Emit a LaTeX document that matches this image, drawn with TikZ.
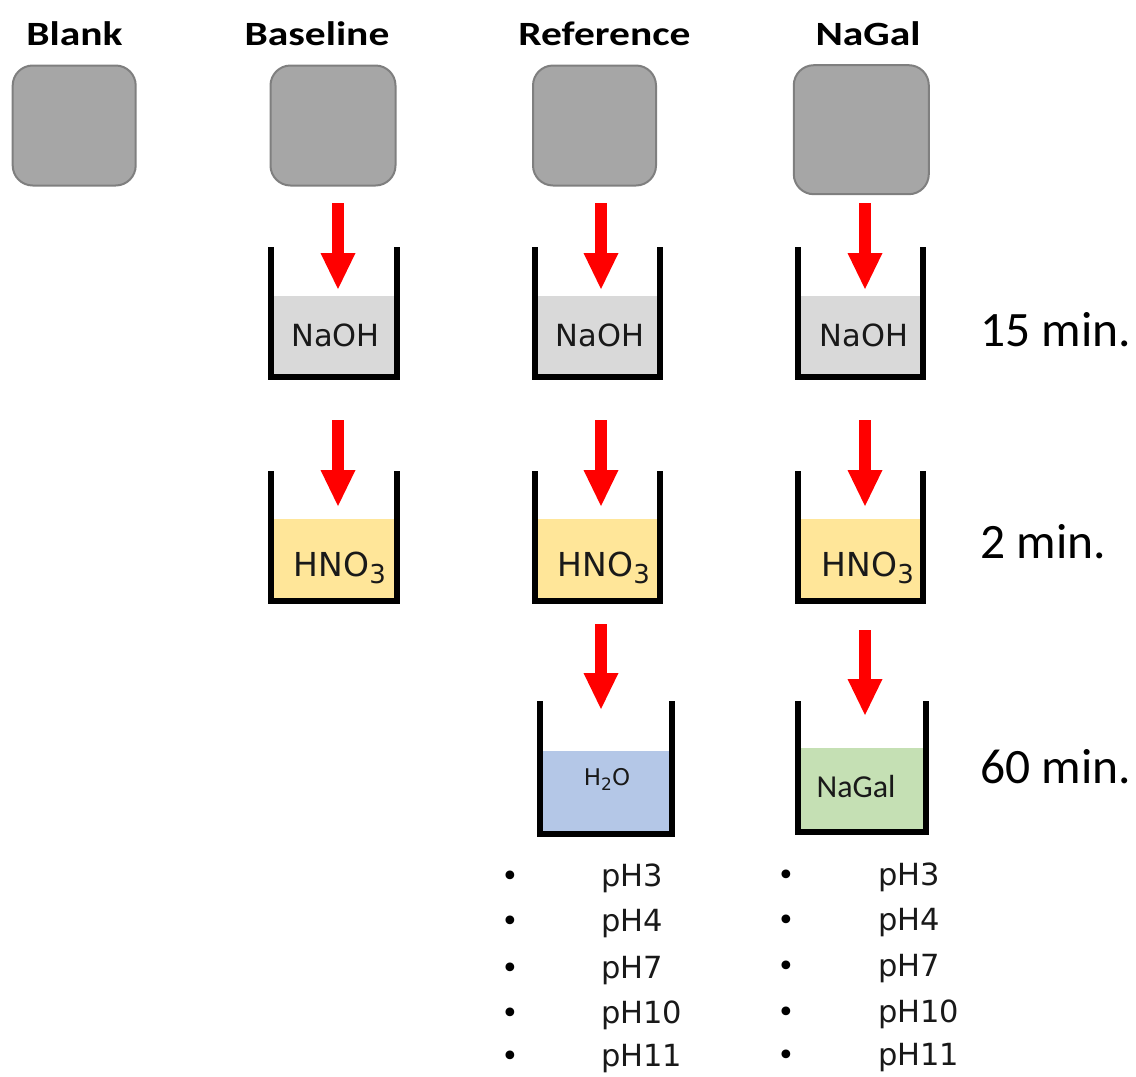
\documentclass[tikz,border=0pt]{standalone}
\usepackage{fontspec}
\usetikzlibrary{arrows.meta}
\newfontfamily\calfont{Carlito}
\newfontfamily\dvfont{DejaVu Sans}
\definecolor{sqfill}{HTML}{A6A6A6}
\definecolor{sqdraw}{HTML}{7F7F7F}
\definecolor{naohc}{HTML}{D9D9D9}
\definecolor{hnoc}{HTML}{FFE699}
\definecolor{waterc}{HTML}{B4C7E7}
\definecolor{nagalc}{HTML}{C5E0B4}
\definecolor{arrred}{HTML}{FF0000}
\newcommand\mysub[2]{\raisebox{-#2}{\fontsize{#1}{#1}\selectfont 3}}
\newcommand\mybeaker[8]{%
  \fill[#7] (#2,#6) rectangle (#3,#5);
  \draw[wall] (#2,#4) -- (#2,#5) -- (#3,#5) -- (#3,#4);
  \path (#2,#4) rectangle (#3,#5) coordinate[pos=.5] (#1) #8;
}
\tikzset{
  sample/.style={draw=sqdraw, fill=sqfill, line width=2pt, rounded corners=20pt, inner sep=0pt},
  title/.style={font=\calfont\bfseries\fontsize{34}{34}\selectfont, anchor=base, inner sep=0pt},
  wall/.style={line width=6pt, line join=miter, line cap=butt, black},
  redarr/.style={arrred, line width=12pt, -{Triangle[width=35pt,length=36pt,line width=0pt]}},
  liq/.style={font=\dvfont\fontsize{30.5}{30.5}\selectfont, anchor=base, inner sep=0pt, text=black!90},
  timel/.style={font=\calfont\fontsize{49.5}{49.5}\selectfont, anchor=base west, inner sep=0pt},
  bul/.style={font=\dvfont\fontsize{30}{30}\selectfont, anchor=base, inner sep=0pt},
  phl/.style={font=\dvfont\fontsize{30.5}{30.5}\selectfont, anchor=base west, inner sep=0pt, text=black!90},
}
\begin{document}
\begin{tikzpicture}[x=1pt,y=-1pt]
\useasboundingbox (0,0) rectangle (1136,1077);
% titles
\node[title] (tBlank) at (74.5,45) {\scalebox{1.22}[1]{Blank}};
\node[title] (tBase) at (317,45) {\scalebox{1.22}[1]{Baseline}};
\node[title] (tRef) at (604.5,45) {\scalebox{1.22}[1]{Reference}};
\node[title] (tNaGal) at (868,45) {\scalebox{1.22}[1]{NaGal}};
% samples
\node[sample, minimum width=123pt, minimum height=120pt] (sBlank) at (74.2,125.5) {};
\node[sample, minimum width=125pt, minimum height=120pt] (sBase) at (333,125.5) {};
\node[sample, minimum width=123pt, minimum height=120pt] (sRef) at (594.5,125.5) {};
\node[sample, minimum width=135pt, minimum height=129pt] (sNaGal) at (861.3,129.7) {};
% beakers row 1 (NaOH)
\mybeaker{bBase1}{271}{397}{247}{377}{296}{naohc}{}
\mybeaker{bRef1}{535}{660}{247}{377}{296}{naohc}{}
\mybeaker{bNaGal1}{798}{923}{247}{377}{296}{naohc}{}
\node[liq] (lBase1) at (335.5,346.7) {NaOH};
\node[liq] (lRef1) at (600,346.7) {NaOH};
\node[liq] (lNaGal1) at (864,346.7) {NaOH};
% beakers row 2 (HNO3)
\mybeaker{bBase2}{271}{397}{471}{601}{519}{hnoc}{}
\mybeaker{bRef2}{535}{660}{471}{601}{519}{hnoc}{}
\mybeaker{bNaGal2}{798}{923}{471}{601}{519}{hnoc}{}
\node[liq, font=\dvfont\fontsize{33}{33}\selectfont] (lBase2) at (340,576) {HNO\mysub{26}{7pt}};
\node[liq, font=\dvfont\fontsize{33}{33}\selectfont] (lRef2) at (604,576) {HNO\mysub{26}{7pt}};
\node[liq, font=\dvfont\fontsize{33}{33}\selectfont] (lNaGal2) at (868,576) {HNO\mysub{26}{7pt}};
% beakers row 3
\mybeaker{bRef3}{540}{672}{701}{834}{751}{waterc}{}
\mybeaker{bNaGal3}{797.5}{925.7}{701}{831.5}{748}{nagalc}{}
\node[liq, font=\dvfont\fontsize{23}{23}\selectfont] (lRef3) at (607,785) {H\raisebox{-5pt}{\fontsize{17}{17}\selectfont 2}O};
\node[liq, font=\calfont\fontsize{32}{32}\selectfont] (lNaGal3) at (856,797.3) {NaGal};
% arrows
\coordinate (a1s) at (338,203); \coordinate (a1e) at (338,289);
\coordinate (a2s) at (601,203); \coordinate (a2e) at (601,289);
\coordinate (a3s) at (865,203); \coordinate (a3e) at (865,289);
\coordinate (b1s) at (338,420); \coordinate (b1e) at (338,506);
\coordinate (b2s) at (601,420); \coordinate (b2e) at (601,506);
\coordinate (b3s) at (865,420); \coordinate (b3e) at (865,506);
\coordinate (c2s) at (601,624); \coordinate (c2e) at (601,709);
\coordinate (c3s) at (865,630); \coordinate (c3e) at (865,715);
\foreach \p in {a1,a2,a3,b1,b2,b3,c2,c3} {\draw[redarr] (\p s) -- (\p e);}
% time labels
\node[timel] (t15) at (980,346.7) {15 min.};
\node[timel] (t2) at (980,558.3) {2 min.};
\node[timel] (t60) at (980,783.3) {60 min.};
% pH lists
\foreach \y/\t [count=\i] in {886.7/pH3,931.7/pH4,978.3/pH7,1023.3/pH10,1066.7/pH11} {
  \node[bul] (bl\i) at (510,\y) {•};
  \node[phl] (pl\i) at (601,\y) {\t};
}
\foreach \y/\t [count=\i] in {885/pH3,930/pH4,976/pH7,1022/pH10,1065/pH11} {
  \node[bul] (br\i) at (786,\y) {•};
  \node[phl] (pr\i) at (878,\y) {\t};
}
\end{tikzpicture}
\end{document}
